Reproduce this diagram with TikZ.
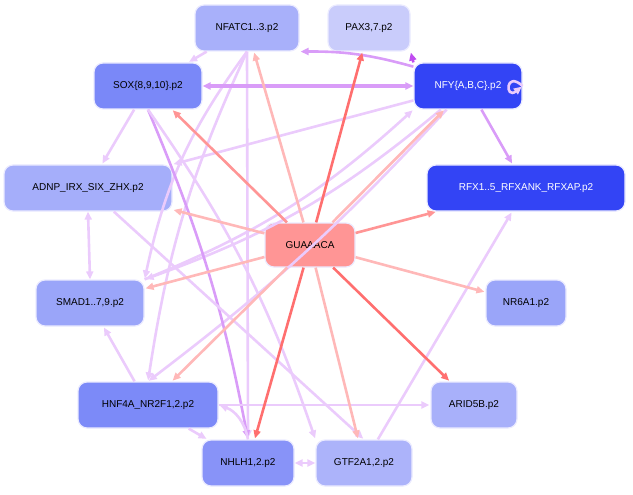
\documentclass[tikz,border=0pt]{standalone}
\usepackage{fontspec}
\setmainfont{Liberation Sans}
\usetikzlibrary{arrows.meta}
\definecolor{redA}{HTML}{FF6F6F}
\definecolor{redB}{HTML}{FF9595}
\definecolor{redC}{HTML}{FFB8B8}
\definecolor{purA}{HTML}{C04CF0}
\definecolor{purB}{HTML}{D99CF8}
\definecolor{purC}{HTML}{EBCBFC}
\tikzset{
  tf/.style={draw=blue!8, line width=1.2pt, rounded corners=9pt, minimum height=46pt, inner sep=0pt, font=\fontsize{10}{12}\selectfont},
  edge/.style={-{Triangle[length=8pt,width=7pt]}, line width=2.6pt, shorten >=1pt},
  bi/.style={{Triangle[length=8pt,width=7pt]}-{Triangle[length=8pt,width=7pt]}, line width=2.6pt}
}
\begin{document}
\begin{tikzpicture}[x=1pt,y=-1pt]
\useasboundingbox (0,0) rectangle (633,495);
% nodes
\node[tf, fill={rgb,255:red,168;green,176;blue,250}, minimum width=104pt] (nfatc) at (247,28) {NFATC1..3.p2};
\node[tf, fill={rgb,255:red,201;green,204;blue,251}, minimum width=82pt] (pax) at (369,28) {PAX3,7.p2};
\node[tf, fill={rgb,255:red,122;green,136;blue,248}, minimum width=108pt] (sox) at (148,86) {SOX\{8,9,10\}.p2};
\node[tf, fill={rgb,255:red,51;green,68;blue,245}, text=white, minimum width=108pt] (nfy) at (468,86) {NFY\{A,B,C\}.p2};
\node[tf, fill={rgb,255:red,165;green,174;blue,250}, minimum width=168pt] (adnp) at (88,188) {ADNP\_IRX\_SIX\_ZHX.p2};
\node[tf, fill={rgb,255:red,51;green,68;blue,245}, text=white, minimum width=198pt] (rfx) at (526,188) {RFX1..5\_RFXANK\_RFXAP.p2};
\node[tf, fill=redB, minimum width=90pt, minimum height=44pt] (motif) at (310,245) {GUAAACA};
\node[tf, fill={rgb,255:red,154;green,165;blue,249}, minimum width=108pt] (smad) at (90,303) {SMAD1..7,9.p2};
\node[tf, fill={rgb,255:red,154;green,165;blue,249}, minimum width=80pt] (nr6a1) at (526,303) {NR6A1.p2};
\node[tf, fill={rgb,255:red,124;green,138;blue,248}, minimum width=140pt] (hnf4a) at (148,405) {HNF4A\_NR2F1,2.p2};
\node[tf, fill={rgb,255:red,168;green,176;blue,250}, minimum width=86pt] (arid5b) at (474,405) {ARID5B.p2};
\node[tf, fill={rgb,255:red,136;green,147;blue,248}, minimum width=92pt] (nhlh) at (248,463) {NHLH1,2.p2};
\node[tf, fill={rgb,255:red,172;green,179;blue,250}, minimum width=96pt] (gtf2a) at (364,463) {GTF2A1,2.p2};
% regulator edges
\begin{scope}[on background layer/.style={}]
\draw[edge, purC] (nfatc) -- (sox);
\draw[edge, purC] (nfatc.south) to[bend right=8] (hnf4a.north);
\draw[edge, purC] (nfatc.south) -- (nhlh.north);
\draw[edge, purC] (nfatc.south) to[bend right=12] (smad.north east);
\draw[edge, purB] (nfy) to[bend right=8] (nfatc.south east);
\draw[edge, purA] (nfy.north west) -- (pax.south east);
\draw[bi, purB, line width=4pt] (nfy) -- (sox);
\draw[edge, purC] (nfy.east) .. controls (505,70) and (505,100) .. (nfy.east);
\draw[edge, purB] (nfy) -- (rfx);
\draw[edge, purC] (nfy) -- (adnp.north east);
\draw[edge, purC] (nfy) to[bend left=10] (smad.north east);
\draw[edge, purC] (nfy) to[bend left=5] (hnf4a.north);
\draw[edge, purC] (smad.north east) to[bend right=10] (nfy.south west);
\draw[edge, purC] (sox) -- (adnp);
\draw[edge, purB] (sox.south) to[bend left=6] (nhlh.north);
\draw[edge, purC] (sox.south) to[bend left=8] (gtf2a.north west);
\draw[bi, purC] (adnp.south) -- (smad.north);
\draw[edge, purC] (adnp) -- (gtf2a.north);
\draw[edge, purC] (hnf4a) -- (smad);
\draw[edge, purC] (hnf4a) -- (arid5b);
\draw[edge, purC] (hnf4a) -- (nhlh);
\draw[edge, purC] (nhlh.north) to[bend right=30] (hnf4a.east);
\draw[bi, purC] (nhlh) -- (gtf2a);
\draw[edge, purC] (gtf2a) -- (rfx);
% motif edges
\draw[edge, redA] (motif) -- (pax);
\draw[edge, redC] (motif) -- (nfatc);
\draw[edge, redB] (motif) -- (sox);
\draw[edge, redC] (motif) -- (adnp);
\draw[edge, redC] (motif) -- (nfy);
\draw[edge, redB] (motif) -- (rfx);
\draw[edge, redC] (motif) -- (nr6a1);
\draw[edge, redC] (motif) -- (smad);
\draw[edge, redC] (motif) -- (hnf4a);
\draw[edge, redA] (motif) -- (nhlh);
\draw[edge, redC] (motif) -- (gtf2a);
\draw[edge, redA] (motif) -- (arid5b);
\end{scope}
\end{tikzpicture}
\end{document}
